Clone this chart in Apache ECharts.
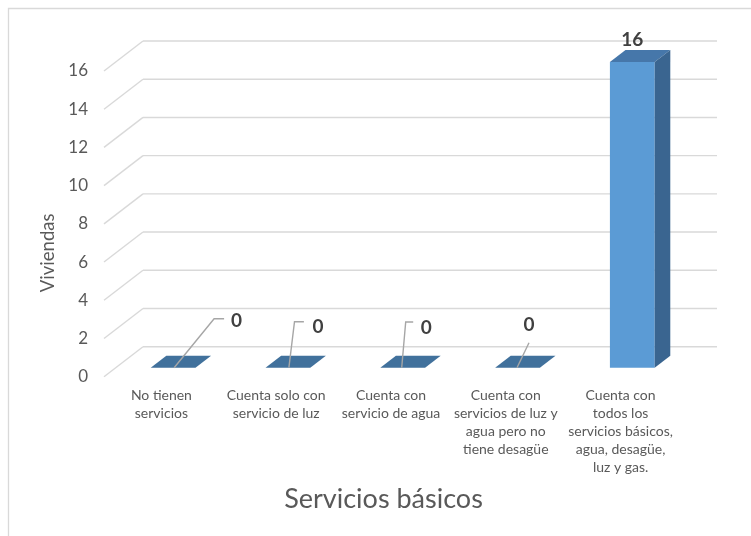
<!DOCTYPE html>
<html>
<head>
<meta charset="utf-8">
<script src="https://cdn.jsdelivr.net/npm/echarts@6/dist/echarts.min.js"></script>
<style>
  html, body { margin: 0; padding: 0; background: #fff; }
  #chart { width: 751px; height: 536px; }
</style>
</head>
<body>
<div id="chart"></div>
<script>
// Categories of basic services and the number of dwellings in each
const categories = [
  'No tienen\nservicios',
  'Cuenta solo con\nservicio de luz',
  'Cuenta con\nservicio de agua',
  'Cuenta con\nservicios de luz y\nagua pero no\ntiene desagüe',
  'Cuenta con\ntodos los\nservicios básicos,\nagua, desagüe,\nluz y gas.'
];
const viviendas = [0, 0, 0, 0, 16];
const valueTicks = [0, 2, 4, 6, 8, 10, 12, 14, 16];

// Oblique projection of the floor depth (front edge -> back wall), in px
const DEPTH = [39, -30];
// Bars sit between these fractions of the depth
const BAR_FRONT = 0.3;
const BAR_BACK = 0.7;
const BAR_WIDTH = 0.39; // share of a category band

// Zero-value labels were dragged away from their bars; leader paths and
// label centres are offsets from the front-bottom centre of each bar
const zeroLabelLeaders = [
  { path: [[1, 0], [41, -49], [51, -49]], label: [63.5, -46.5] },
  { path: [[1, 0], [6.6, -46], [16, -46]], label: [30, -40.5] },
  { path: [[-1, 0], [3, -45.7], [10.5, -45.7]], label: [23.5, -40] },
  { path: [[-0.5, 0], [11.5, -25]], label: [11.5, -43] },
  null
];

const FONT = 'Lato, "Open Sans", sans-serif';
const GRID_COLOR = '#d9d9d9';

const chart = echarts.init(document.getElementById('chart'), null, { renderer: 'canvas' });

function renderWalls(params, api) {
  const cs = params.coordSys;
  const y = api.coord([0, api.value(1)])[1];
  const x0 = cs.x;
  const x1 = cs.x + cs.width;
  const lineStyle = { stroke: GRID_COLOR, lineWidth: 1.4, fill: null };
  return {
    type: 'group',
    children: [
      { type: 'line', shape: { x1: x0, y1: y, x2: x0 + DEPTH[0], y2: y + DEPTH[1] }, style: lineStyle },
      { type: 'line', shape: { x1: x0 + DEPTH[0], y1: y + DEPTH[1], x2: x1 + DEPTH[0], y2: y + DEPTH[1] }, style: lineStyle }
    ]
  };
}

function renderBar(params, api) {
  const idx = api.value(0);
  const val = api.value(1);
  const base = api.coord([idx, 0]);
  const top = api.coord([idx, val]);
  const band = api.size([1, 0])[0];
  const w = band * BAR_WIDTH;
  const fx = DEPTH[0] * BAR_FRONT, fy = DEPTH[1] * BAR_FRONT;
  const bx = DEPTH[0] * BAR_BACK, by = DEPTH[1] * BAR_BACK;
  const dx = bx - fx, dy = by - fy;
  const cx = base[0] + fx;
  const left = cx - w / 2, right = cx + w / 2;
  const yBottom = base[1] + fy;
  const yTop = top[1] + fy;
  const children = [];

  if (val > 0) {
    children.push({
      type: 'rect',
      shape: { x: left, y: yTop, width: w, height: yBottom - yTop },
      style: { fill: '#5b9bd5' }
    });
    children.push({
      type: 'polygon',
      shape: { points: [[left, yTop], [right, yTop], [right + dx, yTop + dy], [left + dx, yTop + dy]] },
      style: { fill: '#4677aa' }
    });
    children.push({
      type: 'polygon',
      shape: { points: [[right, yTop], [right + dx, yTop + dy], [right + dx, yBottom + dy], [right, yBottom]] },
      style: { fill: '#3a6590' }
    });
    children.push({
      type: 'text',
      style: {
        text: String(val), x: cx, y: yTop + dy - 10,
        align: 'center', verticalAlign: 'middle',
        font: 'bold 19px ' + FONT, fill: '#404040'
      }
    });
  } else {
    children.push({
      type: 'polygon',
      shape: { points: [[left, yBottom], [right, yBottom], [right + dx, yBottom + dy], [left + dx, yBottom + dy]] },
      style: { fill: '#41719c' }
    });
    const leader = zeroLabelLeaders[idx];
    if (leader) {
      children.push({
        type: 'polyline',
        shape: { points: leader.path.map(p => [cx + p[0], yBottom + p[1]]) },
        style: { stroke: '#a6a6a6', lineWidth: 1.4, fill: null }
      });
      children.push({
        type: 'text',
        style: {
          text: String(val), x: cx + leader.label[0], y: yBottom + leader.label[1],
          align: 'center', verticalAlign: 'middle',
          font: 'bold 19px ' + FONT, fill: '#404040'
        }
      });
    }
  }
  return { type: 'group', children };
}

const option = {
  animation: false,
  backgroundColor: '#ffffff',
  graphic: [{
    type: 'rect',
    shape: { x: 8.5, y: 8.5, width: 800, height: 600 },
    style: { fill: null, stroke: '#d9d9d9', lineWidth: 1.3 },
    silent: true
  }],
  grid: { left: 104, right: 73, top: 71, bottom: 159.3 },
  xAxis: {
    type: 'category',
    data: categories,
    axisLine: { show: false },
    axisTick: { show: false },
    splitLine: { show: false },
    axisLabel: {
      interval: 0,
      margin: 10,
      color: '#595959',
      fontFamily: FONT,
      fontSize: 14,
      lineHeight: 18,
      align: 'center'
    },
    name: 'Servicios básicos',
    nameLocation: 'middle',
    nameGap: 123,
    nameTextStyle: {
      color: '#595959', fontFamily: FONT, fontSize: 27,
      verticalAlign: 'middle', padding: [0, 15, 0, 0]
    }
  },
  yAxis: {
    type: 'value',
    min: valueTicks[0],
    max: valueTicks[valueTicks.length - 1],
    interval: valueTicks[1] - valueTicks[0],
    axisLine: { show: false },
    axisTick: { show: false },
    splitLine: { show: false },
    axisLabel: { color: '#595959', fontFamily: FONT, fontSize: 17, margin: 16 },
    name: 'Viviendas',
    nameLocation: 'middle',
    nameGap: 53,
    nameRotate: 90,
    nameTextStyle: {
      color: '#595959', fontFamily: FONT, fontSize: 18.5,
      verticalAlign: 'middle', padding: [0, 58, 0, 0]
    }
  },
  series: [
    {
      name: 'walls',
      type: 'custom',
      z: 1,
      silent: true,
      renderItem: renderWalls,
      encode: { x: 0, y: 1 },
      data: valueTicks.map(v => [0, v])
    },
    {
      name: 'Viviendas',
      type: 'custom',
      z: 2,
      renderItem: renderBar,
      encode: { x: 0, y: 1 },
      data: viviendas.map((v, i) => [i, v])
    }
  ]
};

chart.setOption(option);
</script>
</body>
</html>
